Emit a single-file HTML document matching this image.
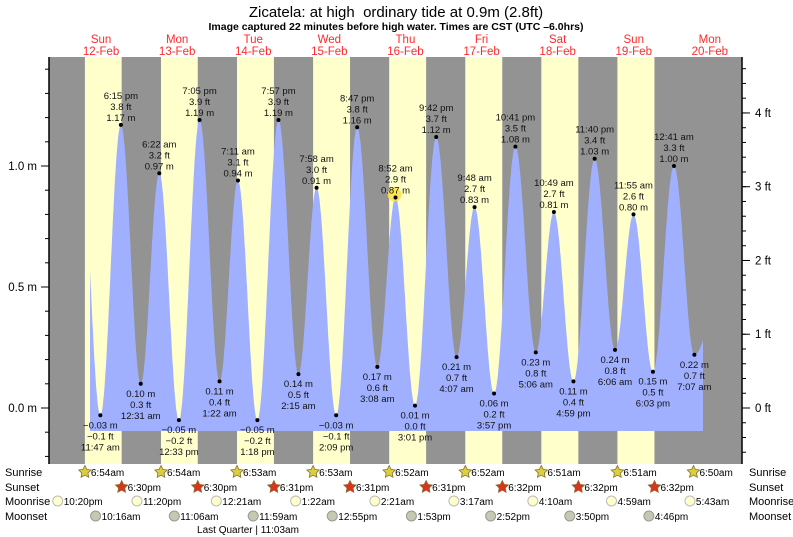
<!DOCTYPE html>
<html><head><meta charset="utf-8"><style>
body{margin:0;background:#fff;width:793px;height:537px;overflow:hidden}
svg{display:block;font-family:"Liberation Sans",sans-serif}
</style></head><body>
<svg id="c" width="793" height="537" viewBox="0 0 793 537">
<text x="396" y="17" font-size="15" text-anchor="middle">Zicatela: at high&#160; ordinary tide at 0.9m (2.8ft)</text>
<text x="396" y="30" font-size="10.5" font-weight="bold" text-anchor="middle">Image captured 22 minutes before high water. Times are CST (UTC –6.0hrs)</text>
<g id="bg"></g><g id="fill"></g><g id="axes"></g><g id="marks"></g><g id="bottom"></g>
</svg>
<script>
const dayNames=["Sun","Mon","Tue","Wed","Thu","Fri","Sat","Sun","Mon"];
const dayDates=["12-Feb","13-Feb","14-Feb","15-Feb","16-Feb","17-Feb","18-Feb","19-Feb","20-Feb"];
// hours since Sun 12-Feb 00:00
const tideHours=[5.5,11.78,18.25,24.52,30.37,36.55,43.08,49.37,55.18,61.3,67.95,74.25,79.97,86.15,92.78,99.13,104.87,111.02,117.7,124.12,129.8,135.95,142.68,149.1,154.82,160.98,167.67,174.1,179.92,186.05,192.68,199.12,212];
const tideMeters=[1.1,-0.03,1.17,0.10,0.97,-0.05,1.19,0.11,0.94,-0.05,1.19,0.14,0.91,-0.03,1.16,0.17,0.87,0.01,1.12,0.21,0.83,0.06,1.08,0.23,0.81,0.11,1.03,0.24,0.80,0.15,1.00,0.22,0.8];
const tideTimes=["","11:47 am","6:15 pm","12:31 am","6:22 am","12:33 pm","7:05 pm","1:22 am","7:11 am","1:18 pm","7:57 pm","2:15 am","7:58 am","2:09 pm","8:47 pm","3:08 am","8:52 am","3:01 pm","9:42 pm","4:07 am","9:48 am","3:57 pm","10:41 pm","5:06 am","10:49 am","4:59 pm","11:40 pm","6:06 am","11:55 am","6:03 pm","12:41 am","7:07 am",""];
const tideFeet=["","−0.1","3.8","0.3","3.2","−0.2","3.9","0.4","3.1","−0.2","3.9","0.5","3.0","−0.1","3.8","0.6","2.9","0.0","3.7","0.7","2.7","0.2","3.5","0.8","2.7","0.4","3.4","0.8","2.6","0.5","3.3","0.7",""];
const sunriseH=[6.9,30.9,54.88,78.88,102.87,126.87,150.85,174.85,198.83];
const sunriseL=["6:54am","6:54am","6:53am","6:53am","6:52am","6:52am","6:51am","6:51am","6:50am"];
const sunsetH=[18.5,42.5,66.52,90.52,114.52,138.53,162.53,186.53];
const sunsetL=["6:30pm","6:30pm","6:31pm","6:31pm","6:31pm","6:32pm","6:32pm","6:32pm"];
const moonriseH=[-1.67,23.33,48.35,73.37,98.35,123.28,148.17,172.98,197.72];
const moonriseL=["10:20pm","11:20pm","12:21am","1:22am","2:21am","3:17am","4:10am","4:59am","5:43am"];
const moonsetH=[10.27,35.1,59.98,84.92,109.88,134.87,159.83,184.77];
const moonsetL=["10:16am","11:06am","11:59am","12:55pm","1:53pm","2:52pm","3:50pm","4:46pm"];
const mTicks=[0,0.5,1.0];
const ftTicks=[0,1,2,3,4];

const NS="http://www.w3.org/2000/svg";
const X0=49,X1=742,Y0=57,Y1=464;
const xs=h=>63+h*76.1/24;
const ys=m=>408-m*242;
function el(tag,attrs,parent,txt){const e=document.createElementNS(NS,tag);for(const k in attrs)e.setAttribute(k,attrs[k]);if(txt!==undefined)e.textContent=txt;parent.appendChild(e);return e;}
const bg=document.getElementById('bg'),fill=document.getElementById('fill'),axes=document.getElementById('axes'),marks=document.getElementById('marks'),bottom=document.getElementById('bottom');

let r=el('rect',{x:X0,y:Y0,width:X1-X0,height:Y1-Y0,fill:'#939393'},bg);

for(let i=0;i<sunsetH.length;i++){
  const a=Math.max(X0,xs(sunriseH[i])),b=Math.min(X1,xs(sunsetH[i]));
  const d=el('rect',{x:a,y:Y0,width:b-a,height:Y1-Y0,fill:'#ffffcc'},bg);
  
}
for(let i=0;i<dayNames.length;i++){
  const x=xs(i*24+12);
  const t1=el('text',{x:x,y:43,'font-size':11.5,fill:'#ff2a2a','text-anchor':'middle'},axes,dayNames[i]);
  
  const t2=el('text',{x:x,y:55,'font-size':11.5,fill:'#ff2a2a','text-anchor':'middle'},axes,dayDates[i]);
  
}
function tideAt(h){
  for(let i=0;i<tideHours.length-1;i++){
    if(h>=tideHours[i]&&h<=tideHours[i+1]){
      const t=(h-tideHours[i])/(tideHours[i+1]-tideHours[i]);
      const a=tideMeters[i],b=tideMeters[i+1];
      return b+(a-b)*(1+Math.cos(Math.PI*t))/2;
    }
  }
  return 0;
}
const hs=(90-63)*24/76.1,he=(703-63)*24/76.1,yb=431;
let d='M90,'+yb;
for(let h=hs;h<=he;h+=0.1)d+=' L'+xs(h).toFixed(1)+','+ys(tideAt(h)).toFixed(1);
d+=' L703,'+ys(tideAt(he)).toFixed(1)+' L703,'+yb+' Z';
const p=el('path',{d:d,fill:'#a0b0ff'},fill);

const hc=el('circle',{cx:xs(tideHours[16])-1,cy:ys(tideMeters[16])-3,r:7,fill:'#ffe040',opacity:0.85},marks);

for(let i=0;i<tideHours.length;i++){
  if(!tideTimes[i])continue;
  const x=xs(tideHours[i]),y=ys(tideMeters[i]);
  const high=(i>0&&tideMeters[i]>tideMeters[i-1]);
  const dot=el('circle',{cx:x,cy:y,r:2,fill:'#000'},marks);
  
  const lines=[tideTimes[i],tideFeet[i]+' ft',tideMeters[i].toFixed(2).replace('-','−')+' m'];
  const off=high?[-26,-15,-4]:[35,24,13];
  for(let k=0;k<3;k++){
    const t=el('text',{x:x,y:y+off[k],'font-size':9.5,fill:'#111','text-anchor':'middle'},marks,lines[k]);
    
  }
}
el('line',{x1:X0,y1:Y0,x2:X0,y2:Y1,stroke:'#000','stroke-width':1.5},axes);
el('line',{x1:X1,y1:Y0,x2:X1,y2:Y1,stroke:'#000','stroke-width':1.5},axes);
for(let m=-0.2;m<=1.45;m+=0.1){const y=ys(m);if(y<Y0||y>Y1)continue;el('line',{x1:X0-4,y1:y,x2:X0,y2:y,stroke:'#000'},axes);}
for(const m of mTicks){
  const y=ys(m);el('line',{x1:X0-8,y1:y,x2:X0,y2:y,stroke:'#000'},axes);
  const t=el('text',{x:X0-12,y:y+4,'font-size':11.5,'text-anchor':'end'},axes,m.toFixed(1)+' m');
  
}
for(let f=-0.8;f<=4.8;f+=0.2){const y=ys(f*0.3048);if(y<Y0||y>Y1)continue;el('line',{x1:X1,y1:y,x2:X1+4,y2:y,stroke:'#000'},axes);}
for(const f of ftTicks){
  const y=ys(f*0.3048);el('line',{x1:X1,y1:y,x2:X1+8,y2:y,stroke:'#000'},axes);
  const t=el('text',{x:X1+13,y:y+4,'font-size':11.5},axes,f+' ft');
  
}
const rows=[['Sunrise',476],['Sunset',491],['Moonrise',505],['Moonset',520]];
for(const [n,y] of rows){
  const a=el('text',{x:5,y:y,'font-size':11},bottom,n);
  const b=el('text',{x:749,y:y,'font-size':11},bottom,n);
}
function star(cx,cy,color){
  let pts=[];for(let k=0;k<10;k++){const rr=k%2?3.2:6.5,a=-Math.PI/2+k*Math.PI/5;pts.push((cx+rr*Math.cos(a)).toFixed(1)+','+(cy+rr*Math.sin(a)).toFixed(1));}
  return el('polygon',{points:pts.join(' '),fill:color,stroke:'#8a6a2a','stroke-width':0.8},bottom);
}
sunriseH.forEach((h,i)=>{const x=xs(h);const s=star(x,472,'#d8d040');
  const t=el('text',{x:x+6,y:476,'font-size':10},bottom,sunriseL[i]);});
sunsetH.forEach((h,i)=>{const x=xs(h);const s=star(x,487,'#e03020');
  const t=el('text',{x:x+6,y:491,'font-size':10},bottom,sunsetL[i]);});
moonriseH.forEach((h,i)=>{const x=xs(h);const c=el('circle',{cx:x,cy:501,r:5,fill:'#ffffcc',stroke:'#bbb'},bottom);
  const t=el('text',{x:x+6,y:505,'font-size':10},bottom,moonriseL[i]);});
moonsetH.forEach((h,i)=>{const x=xs(h);const c=el('circle',{cx:x,cy:516,r:5,fill:'#c8c8b0',stroke:'#999'},bottom);
  const t=el('text',{x:x+6,y:520,'font-size':10},bottom,moonsetL[i]);});
const lq=el('text',{x:248,y:533,'font-size':10,'text-anchor':'middle'},bottom,'Last Quarter | 11:03am');

</script>
</body></html>
